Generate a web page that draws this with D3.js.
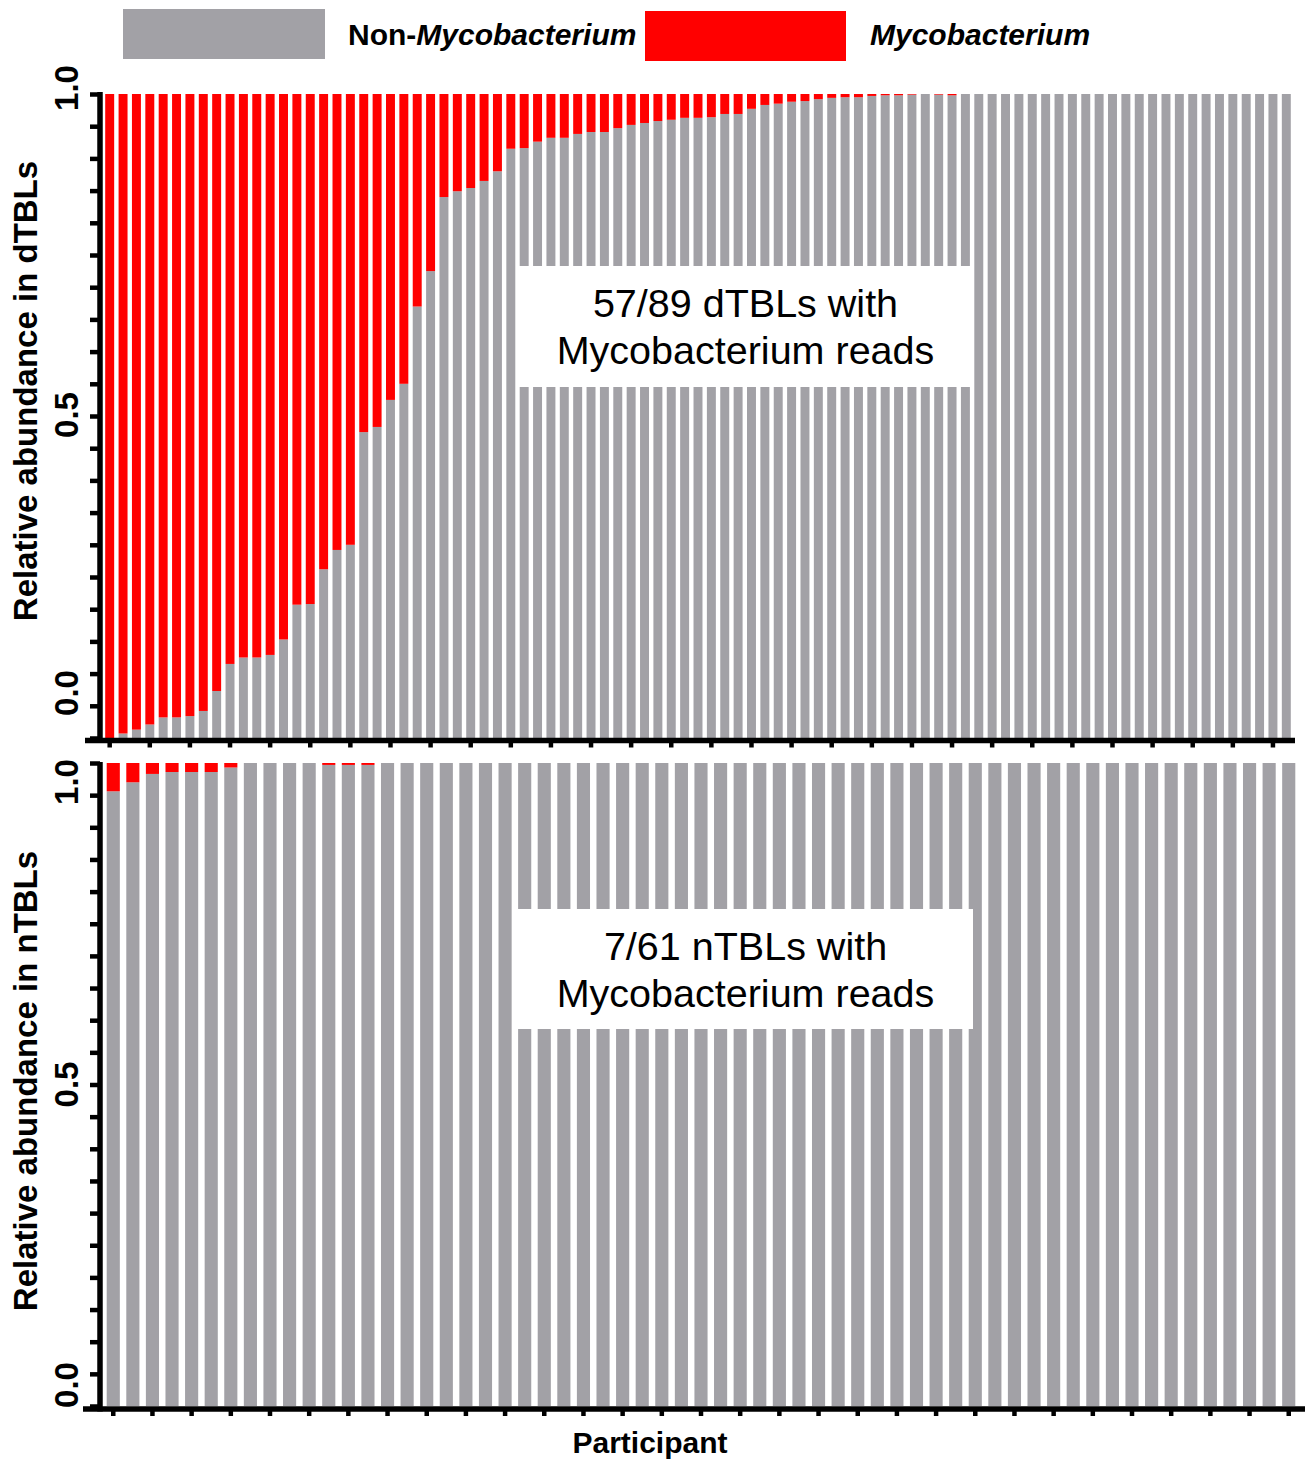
<!DOCTYPE html>
<html>
<head>
<meta charset="utf-8">
<script src="https://cdn.jsdelivr.net/npm/d3@7"></script>
<style>
  html, body { margin: 0; padding: 0; background: #fff; }
  svg { display: block; font-family: "Liberation Sans", Arial, sans-serif; }
</style>
</head>
<body>
<svg id="chart" width="1313" height="1461"></svg>
<script>
// ---------------- DATA ----------------
const seriesKeys = ["Non-Mycobacterium", "Mycobacterium"];

// dTBLs (89 participants)
const nonMycoD = [
  0.000,0.007,0.013,0.021,0.032,0.032,0.034,0.042,0.073,0.115,
  0.125,0.125,0.129,0.153,0.207,0.208,0.262,0.292,0.300,0.475,
  0.483,0.525,0.550,0.670,0.725,0.840,0.849,0.854,0.865,0.880,
  0.915,0.916,0.926,0.932,0.932,0.938,0.941,0.941,0.947,0.952,
  0.955,0.958,0.960,0.963,0.963,0.964,0.969,0.969,0.977,0.983,
  0.985,0.988,0.989,0.992,0.994,0.995,0.995,0.997,0.998,0.998,
  0.999,1.000,0.999,0.998,1.000,1.000,1.000,1.000,1.000,1.000,
  1.000,1.000,1.000,1.000,1.000,1.000,1.000,1.000,1.000,1.000,
  1.000,1.000,1.000,1.000,1.000,1.000,1.000,1.000,1.000
];
const mycoD = [
  1.000,0.993,0.987,0.979,0.968,0.968,0.966,0.958,0.927,0.885,
  0.875,0.875,0.871,0.847,0.793,0.792,0.738,0.708,0.700,0.525,
  0.517,0.475,0.450,0.330,0.275,0.160,0.151,0.146,0.135,0.120,
  0.085,0.084,0.074,0.068,0.068,0.062,0.059,0.059,0.053,0.048,
  0.045,0.042,0.040,0.037,0.037,0.036,0.031,0.031,0.023,0.017,
  0.015,0.012,0.011,0.008,0.006,0.005,0.005,0.003,0.002,0.002,
  0.001,0.000,0.001,0.002,0.000,0.000,0.000,0.000,0.000,0.000,
  0.000,0.000,0.000,0.000,0.000,0.000,0.000,0.000,0.000,0.000,
  0.000,0.000,0.000,0.000,0.000,0.000,0.000,0.000,0.000
];

// nTBLs (61 participants)
const nonMycoN = [
  0.956,0.970,0.983,0.986,0.986,0.986,0.993,1.000,1.000,1.000,
  1.000,0.997,0.997,0.997,1.000,1.000,1.000,1.000,1.000,1.000,
  1.000,1.000,1.000,1.000,1.000,1.000,1.000,1.000,1.000,1.000,
  1.000,1.000,1.000,1.000,1.000,1.000,1.000,1.000,1.000,1.000,
  1.000,1.000,1.000,1.000,1.000,1.000,1.000,1.000,1.000,1.000,
  1.000,1.000,1.000,1.000,1.000,1.000,1.000,1.000,1.000,1.000,
  1.000
];
const mycoN = [
  0.044,0.030,0.017,0.014,0.014,0.014,0.007,0.000,0.000,0.000,
  0.000,0.003,0.003,0.003,0.000,0.000,0.000,0.000,0.000,0.000,
  0.000,0.000,0.000,0.000,0.000,0.000,0.000,0.000,0.000,0.000,
  0.000,0.000,0.000,0.000,0.000,0.000,0.000,0.000,0.000,0.000,
  0.000,0.000,0.000,0.000,0.000,0.000,0.000,0.000,0.000,0.000,
  0.000,0.000,0.000,0.000,0.000,0.000,0.000,0.000,0.000,0.000,
  0.000
];

const yTickValues = [0,0.05,0.1,0.15,0.2,0.25,0.3,0.35,0.4,0.45,0.5,0.55,0.6,0.65,0.7,0.75,0.8,0.85,0.9,0.95,1.0];
const yLabelValues = [1.0, 0.5, 0.0];
const yTitles = ["Relative abundance in dTBLs", "Relative abundance in nTBLs"];
const annotations = [["57/89 dTBLs with", "Mycobacterium reads"], ["7/61 nTBLs with", "Mycobacterium reads"]];
const xTitle = "Participant";

// ---------------- STYLE / LAYOUT ----------------
const colors = { "Non-Mycobacterium": "#a2a1a6", "Mycobacterium": "#ff0000" };
const svg = d3.select("#chart");

const panels = [
  { non: nonMycoD, myco: mycoD, xr: [102, 1294], yr: [738, 94], axisY: 740.5, axX: [85, 1295],
    yAxTop: 92, tickEvery: 3, labelShift: { "1": -6, "0.5": -1, "0": -45 }, titleY: 391,
    box: [517, 266, 456, 121], title: yTitles[0], note: annotations[0] },
  { non: nonMycoN, myco: mycoN, xr: [102, 1300], yr: [1406, 763], axisY: 1409, axX: [83, 1305],
    yAxTop: 762, tickEvery: 2, labelShift: { "1": 19, "0.5": 0, "0": -21 }, titleY: 1081,
    box: [517, 909, 456, 120], title: yTitles[1], note: annotations[1] }
];

panels.forEach(p => {
  const n = p.non.length;
  const rows = p.non.map((v, i) => ({ idx: i, "Non-Mycobacterium": v, "Mycobacterium": p.myco[i] }));
  const x = d3.scaleBand().domain(d3.range(n)).range(p.xr).paddingInner(0.33).paddingOuter(0.24);
  const y = d3.scaleLinear().domain([0, 1]).range(p.yr);
  const stacked = d3.stack().keys(seriesKeys)(rows);

  const g = svg.append("g");
  g.selectAll("g.series").data(stacked).join("g")
    .attr("fill", d => colors[d.key])
    .selectAll("rect").data(d => d).join("rect")
    .attr("x", d => x(d.data.idx))
    .attr("width", x.bandwidth())
    .attr("y", d => y(d[1]))
    .attr("height", d => Math.max(0, y(d[0]) - y(d[1])));

  // annotation box
  g.append("rect").attr("x", p.box[0]).attr("y", p.box[1]).attr("width", p.box[2]).attr("height", p.box[3]).attr("fill", "#fff");
  p.note.forEach((t, k) => {
    g.append("text").attr("x", p.box[0] + p.box[2] / 2 + 0.5).attr("y", p.box[1] + 51 + k * 47)
      .attr("text-anchor", "middle").attr("font-size", 39.5).attr("fill", "#000").text(t);
  });

  // y axis ticks
  const yAxis = d3.axisLeft(y).tickValues(yTickValues).tickSize(10).tickSizeOuter(0).tickFormat("");
  const ya = g.append("g").attr("transform", "translate(100,0)").call(yAxis);
  ya.select(".domain").remove();
  ya.selectAll(".tick line").attr("stroke", "#000").attr("stroke-width", 4.5);
  g.append("line").attr("x1", 100).attr("x2", 100).attr("y1", p.yAxTop).attr("y2", p.axisY + 2.5)
    .attr("stroke", "#000").attr("stroke-width", 5.5);

  // y labels
  yLabelValues.forEach(v => {
    const cy = y(v) + p.labelShift[String(v)];
    g.append("text").attr("transform", `translate(78,${cy}) rotate(-90)`)
      .attr("text-anchor", "middle").attr("font-size", 33).attr("font-weight", "bold")
      .text(d3.format(".1f")(v));
  });

  // y title
  g.append("text").attr("transform", `translate(37,${p.titleY}) rotate(-90)`)
    .attr("text-anchor", "middle").attr("font-size", 33).attr("font-weight", "bold").text(p.title);

  // x axis
  const xAxis = d3.axisBottom(x).tickValues(d3.range(0, n, p.tickEvery)).tickSize(6).tickSizeOuter(0).tickFormat("");
  const xa = g.append("g").attr("transform", `translate(0,${p.axisY + 1})`).call(xAxis);
  xa.select(".domain").remove();
  xa.selectAll(".tick line").attr("stroke", "#000").attr("stroke-width", 4.5);
  g.append("line").attr("x1", p.axX[0]).attr("x2", p.axX[1]).attr("y1", p.axisY).attr("y2", p.axisY)
    .attr("stroke", "#000").attr("stroke-width", 5.5);
});

// x title
svg.append("text").attr("x", 650).attr("y", 1453).attr("text-anchor", "middle")
  .attr("font-size", 30).attr("font-weight", "bold").text(xTitle);

// legend
const legend = svg.append("g");
const legItems = [
  { key: "Non-Mycobacterium", rect: [123, 9, 202, 50], tx: 348, prefix: "Non-", ital: "Mycobacterium" },
  { key: "Mycobacterium", rect: [645, 11, 201, 50], tx: 870, prefix: "", ital: "Mycobacterium" }
];
legItems.forEach(it => {
  legend.append("rect").attr("x", it.rect[0]).attr("y", it.rect[1]).attr("width", it.rect[2]).attr("height", it.rect[3])
    .attr("fill", colors[it.key]);
  const t = legend.append("text").attr("x", it.tx).attr("y", 45).attr("font-size", 30).attr("font-weight", "bold");
  if (it.prefix) t.append("tspan").text(it.prefix);
  t.append("tspan").attr("font-style", "italic").text(it.ital);
});
</script>
</body>
</html>
